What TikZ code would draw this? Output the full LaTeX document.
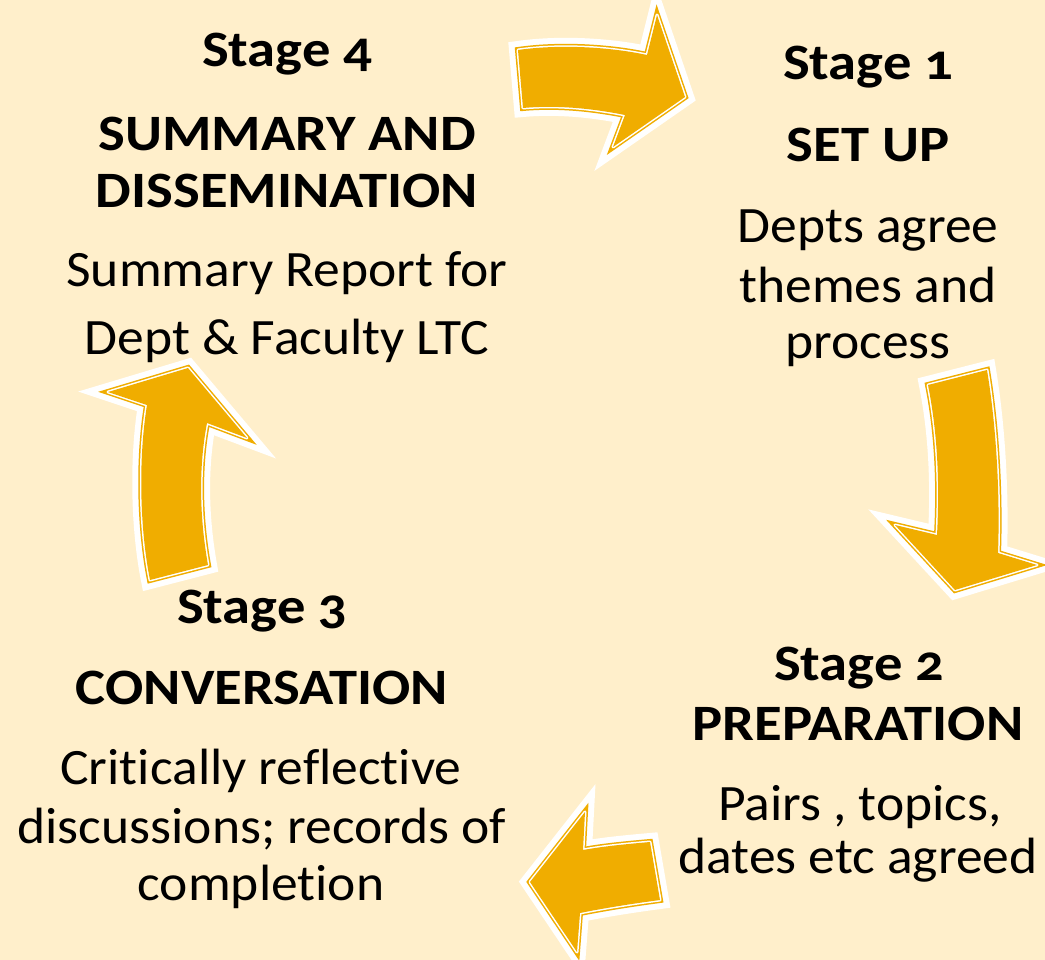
\documentclass[tikz,border=0pt]{standalone}
\usepackage{fontspec}
\setmainfont{Carlito}[Numbers=OldStyle, Ligatures=NoCommon, FakeStretch=1.05, BoldFeatures={FakeStretch=1.11}]
\definecolor{bgcream}{HTML}{FFEFCB}
\definecolor{gold}{HTML}{F0AD00}
\begin{document}
\begin{tikzpicture}[x=1pt,y=-1pt,
  bigarrow/.style={line join=round,
    preaction={draw=white,line width=18pt},
    preaction={draw=gold,line width=6pt},
    draw=white,line width=3pt,
    postaction={fill=gold}},
  txt/.style={anchor=base,inner sep=0pt,font=\fontsize{51}{60}\selectfont},
  hd/.style={txt,font=\fontsize{51}{60}\selectfont\bfseries}]
\useasboundingbox[fill=bgcream] (0,0) rectangle (1045,960);
% arrows
\path[bigarrow] (518,50) .. controls (560,44) and (610,47) .. (647,55) -- (657,15) -- (685,97) -- (613,147) -- (625,115) .. controls (590,108) and (555,105) .. (523,108) -- cycle;
\path[bigarrow] (928,385) -- (987,370) .. controls (997,430) and (1000,500) .. (998,553) -- (1037,565) -- (955,590) -- (895,525) -- (937,535) .. controls (940,480) and (937,430) .. (928,385) -- cycle;
\path[bigarrow] (530,882) -- (585,812) -- (583,850) .. controls (605,846) and (628,844) .. (650,842) -- (660,900) .. controls (630,904) and (605,908) .. (580,913) -- (577,952) -- cycle;
\path[bigarrow] (108,392) -- (188,368) -- (247,438) -- (207,423) .. controls (198,470) and (200,520) .. (208,565) -- (150,580) .. controls (140,530) and (138,460) .. (147,405) -- cycle;
% Stage 4
\node[hd] (s4a) at (287,67) {Stage 4};
\node[hd] (s4b) at (287,151) {SUMMARY AND};
\node[hd] (s4c) at (287,208) {DISSEMINATION};
\node[txt] (s4d) at (287,287) {Summary Report for};
\node[txt] (s4e) at (287,355) {Dept \& Faculty LTC};
% Stage 1
\node[hd] (s1a) at (868,80) {Stage 1};
\node[hd] (s1b) at (868,162) {SET UP};
\node[txt] (s1c) at (868,243) {Depts agree};
\node[txt] (s1d) at (868,302) {themes and};
\node[txt] (s1e) at (868,358) {process};
% Stage 2
\node[hd] (s2a) at (859,680) {Stage 2};
\node[hd] (s2b) at (858,740) {PREPARATION};
\node[txt] (s2c) at (860,820) {Pairs , topics,};
\node[txt] (s2d) at (858,873) {dates etc agreed};
% Stage 3
\node[hd] (s3a) at (262,623) {Stage 3};
\node[hd] (s3b) at (262,704) {CONVERSATION};
\node[txt] (s3c) at (261,784) {Critically reflective};
\node[txt] (s3d) at (262,843) {discussions; records of};
\node[txt] (s3e) at (261,900) {completion};
\end{tikzpicture}
\end{document}
